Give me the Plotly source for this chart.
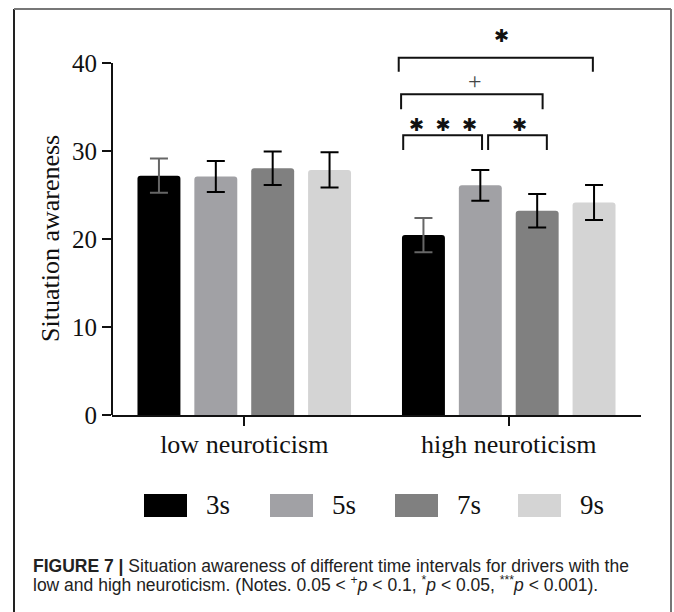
import plotly.graph_objects as go

# ---------------- data ----------------
groups = ["low neuroticism", "high neuroticism"]
series = ["3s", "5s", "7s", "9s"]
mean_3s = [27.2, 20.45]
mean_5s = [27.1, 26.1]
mean_7s = [28.05, 23.2]
mean_9s = [27.85, 24.15]
err_3s = [1.95, 1.95]
err_5s = [1.75, 1.75]
err_7s = [1.9, 1.9]
err_9s = [2.0, 2.0]
y_ticks = [0, 10, 20, 30, 40]

# significance brackets in the high-neuroticism group: (x0, x1, top, leg bottom, label, label x, label y)
brackets = [
    (0.601, 0.899, 31.8, 30.1, "✱\u00a0\u00a0✱\u00a0\u00a0✱", 0.753, 33.0),
    (0.922, 1.144, 31.8, 30.1, "✱", 1.041, 33.0),
    (0.593, 1.128, 36.45, 34.75, "+", 0.874, 38.0),
    (0.584, 1.318, 40.6, 39.0, "✱", 0.974, 43.1),
]

means = [mean_3s, mean_5s, mean_7s, mean_9s]
errs = [err_3s, err_5s, err_7s, err_9s]
colors = ["#000000", "#a1a1a5", "#808080", "#d4d4d4"]
err_colors = ["#666666", "#000000", "#000000", "#000000"]

W, H = 674, 612
ML, MR, MT, MB = 112, 33, 22, 197
PW, PH = W - ML - MR, H - MT - MB


def xp(px):
    return (px - ML) / PW


def yp(py):
    return (H - MB - py) / PH


serif = "Liberation Serif, Times New Roman, serif"

fig = go.Figure()
for name, m, e, c, ec in zip(series, means, errs, colors, err_colors):
    fig.add_trace(go.Bar(
        name=name, x=groups, y=m,
        marker=dict(color=c, line=dict(width=0), cornerradius=3),
        error_y=dict(type="data", array=e, visible=True, color=ec, thickness=2, width=9),
        showlegend=False,
    ))

shapes = []
annotations = []

# y axis line (stops at 40)
shapes.append(dict(type="line", xref="paper", yref="y", x0=0, x1=0, y0=0, y1=max(y_ticks),
                   line=dict(color="#111111", width=2)))

# y axis title, centred on the 0-40 axis line
annotations.append(dict(x=xp(50), y=max(y_ticks) / 2, xref="paper", yref="y", text="Situation awareness",
                        textangle=-90, showarrow=False, xanchor="center", yanchor="middle",
                        font=dict(family=serif, size=26, color="#111111")))

# brackets
for x0, x1, top, bot, lab, lx, ly in brackets:
    shapes.append(dict(type="path", xref="x", yref="y",
                       path=f"M {x0},{bot} L {x0},{top} L {x1},{top} L {x1},{bot}",
                       line=dict(color="#111111", width=2)))
    if lab == "+":
        annotations.append(dict(x=lx, y=ly, xref="x", yref="y", text=lab, showarrow=False,
                                font=dict(family=serif, size=24, color="#444444")))
    else:
        annotations.append(dict(x=lx, y=ly, xref="x", yref="y", text=lab, showarrow=False,
                                font=dict(family="DejaVu Sans", size=18, color="#111111")))

# custom legend
sw_left = [144, 270, 395, 518]
for name, c, sx in zip(series, colors, sw_left):
    shapes.append(dict(type="rect", xref="paper", yref="paper",
                       x0=xp(sx), x1=xp(sx + 43), y0=yp(517), y1=yp(494),
                       fillcolor=c, line=dict(width=0)))
    annotations.append(dict(x=xp(sx + 60), y=yp(505), xref="paper", yref="paper",
                            text=name, showarrow=False, xanchor="left", yanchor="middle",
                            font=dict(family=serif, size=27, color="#111111")))

# frame
shapes.append(dict(type="line", xref="paper", yref="paper", x0=xp(14), x1=xp(14), y0=yp(9), y1=yp(620),
                   line=dict(color="#222222", width=2)))
shapes.append(dict(type="line", xref="paper", yref="paper", x0=xp(14), x1=xp(671), y0=yp(9), y1=yp(9),
                   line=dict(color="#777777", width=2)))
shapes.append(dict(type="line", xref="paper", yref="paper", x0=xp(671), x1=xp(671), y0=yp(9), y1=yp(620),
                   line=dict(color="#777777", width=2)))

# caption
cap_font = dict(family="Liberation Sans, Arial, sans-serif", size=17.5, color="#222222")
annotations.append(dict(x=xp(31), y=yp(566), xref="paper", yref="paper", xanchor="left", yanchor="middle",
                        showarrow=False, font=cap_font,
                        text="<b>FIGURE 7 |</b> Situation awareness of different time intervals for drivers with the"))
annotations.append(dict(x=xp(31), y=yp(584), xref="paper", yref="paper", xanchor="left", yanchor="middle",
                        showarrow=False, font=cap_font,
                        text="low and high neuroticism. (Notes. 0.05 &lt; <sup>+</sup><i>p</i> &lt; 0.1, "
                             "<sup>*</sup><i>p</i> &lt; 0.05, <sup>***</sup><i>p</i> &lt; 0.001)."))

fig.update_layout(
    width=W, height=H,
    margin=dict(l=ML, r=MR, t=MT, b=MB),
    paper_bgcolor="white", plot_bgcolor="white",
    barmode="group", bargap=0.14, bargroupgap=0.245,
    shapes=shapes, annotations=annotations,
    showlegend=False,
    font=dict(family=serif, color="#111111"),
)
fig.update_xaxes(
    showline=True, linecolor="#111111", linewidth=2,
    ticks="outside", ticklen=9, tickwidth=2, tickcolor="#111111",
    tickfont=dict(family=serif, size=26, color="#111111"),
    ticklabelstandoff=-4,
    showgrid=False, zeroline=False, range=[-0.5, 1.5],
)
fig.update_yaxes(
    range=[0, 40 * PH / 352], tickvals=y_ticks,
    showline=False, ticks="outside", ticklen=9, tickwidth=2, tickcolor="#111111",
    tickfont=dict(family=serif, size=25, color="#111111"),
    showgrid=False, zeroline=False,
)

fig.write_html("out.html")
